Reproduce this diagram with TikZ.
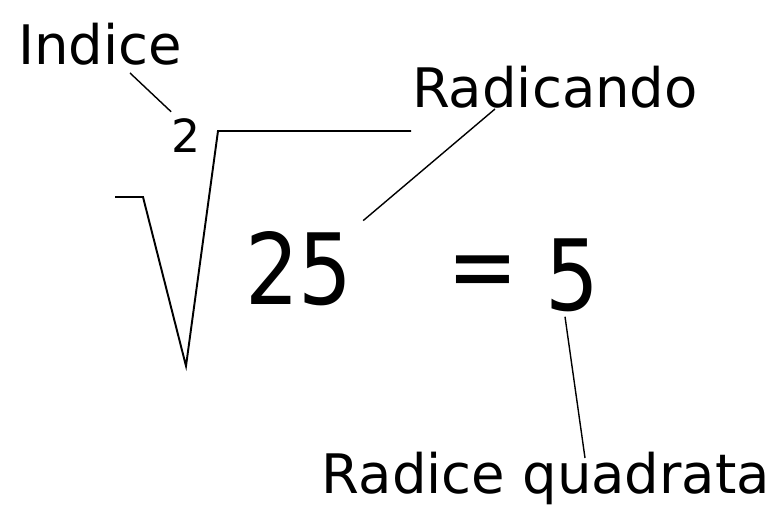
\documentclass[tikz,border=0pt]{standalone}
\usepackage{fontspec}
\setmainfont{DejaVu Sans}
\newfontfamily\narrowfont[FakeStretch=0.86]{DejaVu Sans}
\usepackage{tikz}
\usetikzlibrary{calc,positioning}

\begin{document}
\begin{tikzpicture}[
    x=0.02cm, y=-0.02cm,
    label/.style={
        inner sep=0,
        anchor=base,
        font=\fontsize{31}{37}\selectfont
    },
    big/.style={
        inner sep=0,
        anchor=base,
        font=\narrowfont\fontsize{56}{66}\selectfont
    },
    small/.style={
        inner sep=0,
        anchor=base,
        font=\fontsize{26}{30}\selectfont
    },
    leader/.style={
        line width=0.8pt
    },
    radical/.style={
        line width=1.1pt
    }
]
\useasboundingbox (0,0) rectangle (776,509);

% Labels
\node[label] at (100,65)  (indice)    {Indice};
\node[label] at (555,108) (radicando) {Radicando};
\node[label] at (546,493) (radice)    {Radice quadrata};

% Expression
\node[small] at (186,153) (indexnum) {2};
\node[big]   at (299,305) (arg)      {25};
\node[big]   at (483,300) (eq)       {=};
\node[big]   at (572,311) (res)      {5};

% Root sign
\coordinate (tick) at (115,197);
\coordinate (bar)  at (411,131);
\draw[radical] (tick) -- (143,197) -- (186,366) -- (218,131) -- (bar);

% Leaders
\draw[leader] ($(indice.base)+(30,8)$) -- ($(indexnum.north west)+(0,-7)$);
\draw[leader] ($(arg.north east)+(10,-11)$) -- ($(radicando.base)+(-60,1)$);
\draw[leader] ($(res.south)+(-7,4)$) -- ($(radice.base)+(39,-35)$);

\end{tikzpicture}
\end{document}
